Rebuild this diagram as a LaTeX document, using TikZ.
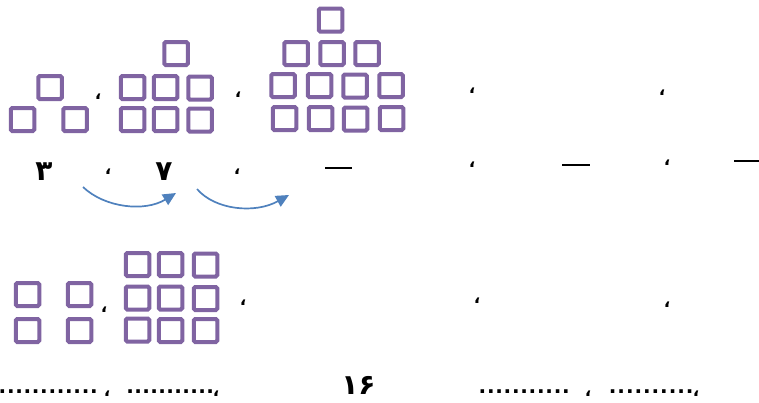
\documentclass[tikz,border=0pt]{standalone}
\usepackage{fontspec}
\usetikzlibrary{arrows.meta}
\newfontfamily\arabicfont[Script=Arabic]{DejaVu Sans}
\definecolor{sqpurple}{RGB}{128,100,162}
\definecolor{arrblue}{RGB}{79,129,189}
\newcommand\dotrow[1]{\hbox to #1pt{\xleaders\hbox to 8pt{\hss.\hss}\hfill}}
\tikzset{
  sq/.style={draw=sqpurple, line width=4pt, rounded corners=1.5pt, minimum width=23.5pt, minimum height=23pt, inner sep=0pt},
  commamark/.style={inner sep=0pt, font=\arabicfont\bfseries\fontsize{17}{17}\selectfont},
  num/.style={inner sep=0pt, font=\arabicfont\bfseries\fontsize{28}{28}\selectfont},
  dotsnode/.style={inner sep=0pt, anchor=west, font=\arabicfont\bfseries\fontsize{20}{20}\selectfont},
  blank/.style={line width=1.6pt},
  curvearrow/.style={draw=arrblue, line width=1.7pt, -{Triangle[length=13pt,width=12pt]}}
}
\begin{document}
\begin{tikzpicture}[x=1pt,y=-1pt]
\useasboundingbox (0,0) rectangle (759,402);
% pattern 1
\node[sq] (a1) at (50,87.5) {};
\node[sq] (a2) at (22.5,119.5) {};
\node[sq] (a3) at (75,119.5) {};
\node[commamark] (c1) at (98,97) {،};
% pattern 2
\node[sq] (b1) at (176,53.5) {};
\node[sq] (b2) at (132.5,87.5) {};
\node[sq] (b3) at (165.5,87.5) {};
\node[sq] (b4) at (200,88) {};
\node[sq] (b5) at (132.5,119.5) {};
\node[sq] (b6) at (165.5,119.5) {};
\node[sq] (b7) at (200,120) {};
\node[commamark] (c2) at (238,95) {،};
% pattern 3
\node[sq] (d1) at (330.5,20) {};
\node[sq] (d2) at (296,53.5) {};
\node[sq] (d3) at (332,53.5) {};
\node[sq] (d4) at (367,53.5) {};
\node[sq] (d5) at (283,85.5) {};
\node[sq] (d6) at (319.5,85.5) {};
\node[sq] (d7) at (355,86) {};
\node[sq] (d8) at (391,85.5) {};
\node[sq] (d9) at (284.5,118.5) {};
\node[sq] (d10) at (320.5,118.5) {};
\node[sq] (d11) at (355.5,119) {};
\node[sq] (d12) at (391.5,118.5) {};
\node[commamark] (c3) at (472,91) {،};
\node[commamark] (c4) at (662,93) {،};
% number row
\node[num] (n1) at (44,172) {٣};
\node[commamark] (c5) at (108,172) {،};
\node[num] (n2) at (164,171.5) {٧};
\node[commamark] (c6) at (237,172) {،};
\coordinate (l1a) at (325,168); \coordinate (l1b) at (352,168);
\draw[blank] (l1a) -- (l1b);
\node[commamark] (c7) at (472,165) {،};
\coordinate (l2a) at (562,165); \coordinate (l2b) at (590,165);
\draw[blank] (l2a) -- (l2b);
\node[commamark] (c8) at (667,163) {،};
\coordinate (l3a) at (734,161); \coordinate (l3b) at (759,161);
\draw[blank] (l3a) -- (l3b);
% arrows
\coordinate (ar1s) at (83,187); \coordinate (ar1e) at (176,193);
\coordinate (ar2s) at (197,189); \coordinate (ar2e) at (289,195);
\draw[curvearrow] (ar1s) .. controls (105,208) and (145,212) .. (ar1e);
\draw[curvearrow] (ar2s) .. controls (215,210) and (255,214) .. (ar2e);
% bottom row
\node[sq] (e1) at (27.5,294.5) {};
\node[sq] (e2) at (27.5,330.5) {};
\node[sq] (e3) at (79.5,294.5) {};
\node[sq] (e4) at (79.5,330.5) {};
\node[commamark] (c9) at (104,310) {،};
\node[sq] (f1) at (137.5,264.5) {};
\node[sq] (f2) at (170.5,264.5) {};
\node[sq] (f3) at (205.5,265) {};
\node[sq] (f4) at (137.5,298) {};
\node[sq] (f5) at (170.5,298) {};
\node[sq] (f6) at (205.5,298.5) {};
\node[sq] (f7) at (137.5,330) {};
\node[sq] (f8) at (170.5,330.5) {};
\node[sq] (f9) at (205.5,330.5) {};
\node[commamark] (c10) at (243,303) {،};
\node[commamark] (c11) at (477,301) {،};
\node[commamark] (c12) at (667,305) {،};
% last row
\node[dotsnode] (g1) at (-2,392) {\dotrow{100}};
\node[commamark] (c13) at (107,394) {،};
\node[dotsnode] (g2) at (126,392) {\dotrow{88}};
\node[commamark] (c14) at (216,394) {،};
\node[num] (n3) at (358.5,385) {١۶};
\node[dotsnode] (g3) at (478,392) {\dotrow{92}};
\node[commamark] (c15) at (588,394) {،};
\node[dotsnode] (g4) at (608,392) {\dotrow{86}};
\node[commamark] (c16) at (696,394) {،};
\end{tikzpicture}
\end{document}
